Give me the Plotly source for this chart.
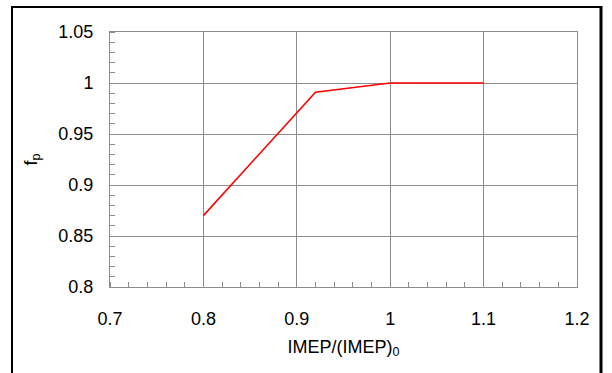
import plotly.graph_objects as go

imep_ratio = [0.8, 0.92, 1.0, 1.1]
fp_values = [0.87, 0.991, 1.0, 1.0]

x_ticks = [0.7, 0.8, 0.9, 1.0, 1.1, 1.2]
x_tick_labels = ["0.7", "0.8", "0.9", "1", "1.1", "1.2"]
y_ticks = [0.8, 0.85, 0.9, 0.95, 1.0, 1.05]
y_tick_labels = ["0.8", "0.85", "0.9", "0.95", "1", "1.05"]

x_minor = [round(0.7 + 0.02 * i, 2) for i in range(26)]
y_minor = [round(0.8 + 0.01 * i, 2) for i in range(26)]

W, H = 612, 373
L, R, T, B = 110, 35, 32, 86
PW, PH = W - L - R, H - T - B


def px(xp):
    return (xp - L) / PW


def py(yp):
    return 1 - (yp - T) / PH


fig = go.Figure()
fig.add_trace(go.Scatter(x=imep_ratio, y=fp_values, mode="lines",
                         line=dict(color="#ff0000", width=1.6), showlegend=False))

font = dict(family="Liberation Sans, Arial, sans-serif", size=18, color="#000000")
grid = "#8c8c8c"

frame = dict(color="black", width=2)
fig.update_layout(
    width=W, height=H,
    margin=dict(l=L, r=R, t=T, b=B),
    paper_bgcolor="white", plot_bgcolor="white",
    font=font,
    xaxis=dict(range=[0.7, 1.2], tickmode="array", tickvals=x_ticks, ticktext=x_tick_labels,
               showgrid=True, gridcolor=grid, gridwidth=1, automargin=False,
               showline=True, linecolor=grid, linewidth=1, mirror=True,
               ticks="", ticklabelstandoff=15, zeroline=False,
               minor=dict(tickmode="array", tickvals=x_minor, ticks="inside", ticklen=5,
                          tickcolor=grid, showgrid=False),
               title=dict(text="IMEP/(IMEP)<sub>0</sub>", font=font, standoff=12)),
    yaxis=dict(range=[0.8, 1.05], tickmode="array", tickvals=y_ticks, ticktext=y_tick_labels,
               showgrid=True, gridcolor=grid, gridwidth=1, automargin=False,
               showline=True, linecolor=grid, linewidth=1, mirror=True,
               ticks="", ticklabelstandoff=12, zeroline=False,
               minor=dict(tickmode="array", tickvals=y_minor, ticks="inside", ticklen=5,
                          tickcolor=grid, showgrid=False),
               title=dict(text="f<sub>p</sub>", font=font, standoff=16)),
    shapes=[
        dict(type="line", xref="paper", yref="paper", x0=px(12), x1=px(12),
             y0=py(6), y1=py(380), line=frame),
        dict(type="line", xref="paper", yref="paper", x0=px(11), x1=px(602),
             y0=py(7), y1=py(7), line=frame),
        dict(type="line", xref="paper", yref="paper", x0=px(601), x1=px(601),
             y0=py(6), y1=py(380), line=dict(color="black", width=3)),
    ],
)

fig.write_html("out.html", config={"displayModeBar": False},
               post_script="document.body.style.margin='0';document.body.style.overflow='hidden';")
